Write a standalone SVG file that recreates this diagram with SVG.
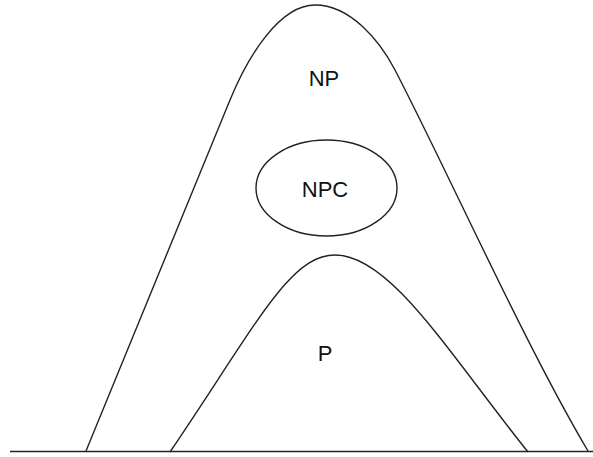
<svg xmlns="http://www.w3.org/2000/svg" width="593" height="457" viewBox="0 0 593 457">
  <style>
    .curve { fill: none; stroke: #222; stroke-width: 1.4; }
    .label { font-family: "Liberation Sans", Arial, Helvetica, sans-serif; font-size: 22px; fill: #111; text-anchor: middle; }
  </style>
  <rect width="593" height="457" fill="#fff"/>

  <!-- ground line -->
  <g id="baseline">
    <line class="curve" x1="10" y1="451.5" x2="593" y2="451.5" stroke-width="1.6"/>
  </g>

  <!-- outer hill: NP -->
  <g id="np">
    <path class="curve" d="M86,451 L230,100 C248.5,55 280,5 315,5 C350,5 379.4,40 395,70 C447,170 525,345 588,451"/>
    <text class="label" x="324" y="86">NP</text>
  </g>

  <!-- ellipse: NPC -->
  <g id="npc">
    <ellipse class="curve" cx="326.5" cy="188" rx="70.5" ry="48"/>
    <text class="label" x="325" y="197">NPC</text>
  </g>

  <!-- inner hill: P -->
  <g id="p">
    <path class="curve" d="M170,452 C258,322 290,255 335,255 C390,255 448,352 528,452"/>
    <text class="label" x="325" y="361">P</text>
  </g>
</svg>
